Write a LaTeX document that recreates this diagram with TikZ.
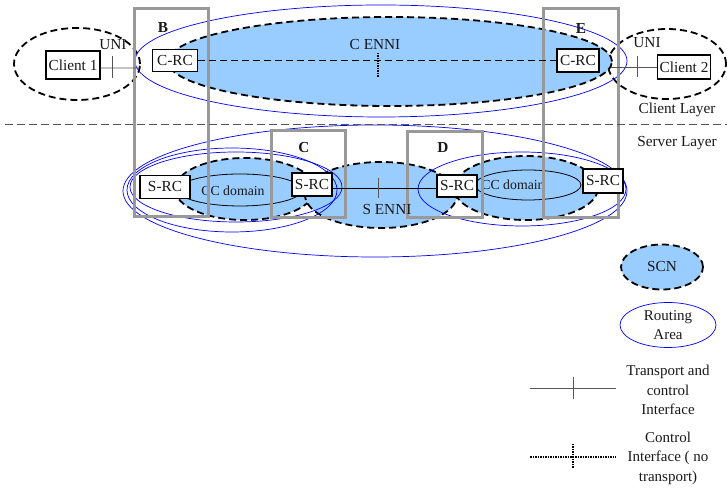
\documentclass[tikz,border=0pt]{standalone}
\usepackage{fontspec}
\setmainfont{Liberation Serif}
\usepackage{xcolor}
\usepackage{tikz}
\usetikzlibrary{positioning,shapes.geometric}

\definecolor{scnblue}{HTML}{99CCFF}
\definecolor{boxgray}{HTML}{999999}
\definecolor{linegray}{HTML}{555555}

\begin{document}
\begin{tikzpicture}[x=10pt,y=10pt,
    font=\fontsize{15.3}{18}\selectfont, text=black!90,
    scnedge/.style={draw=black, line width=1.8pt, dash pattern=on 7pt off 4pt},
    scn/.style={scnedge, fill=scnblue},
    area/.style={draw=blue, line width=0.7pt},
    ncbox/.style={draw=boxgray, line width=3pt},
    rc/.style={draw, fill=white, line width=1.3pt, inner sep=2pt, minimum height=23pt},
    tci/.style={draw=linegray, line width=0.8pt},
    ctrl/.style={draw=black, line width=1.8pt, dash pattern=on 7pt off 4pt},
    ctrltick/.style={draw=black, line width=1.8pt, dash pattern=on 1.5pt off 1pt},
    layer/.style={draw=linegray, line width=1pt, dash pattern=on 8pt off 4pt},
    small/.style={font=\fontsize{13.8}{16}\selectfont},
    legend/.style={align=center, font=\fontsize{15}{19.5}\selectfont}]
    \useasboundingbox (0,0) rectangle (72.7,48.9);

    % SCN domains
    \draw[scnedge] (7.7,42.5) ellipse (6.3 and 3.6);
    \draw[scnedge] (66.7,42.5) ellipse (5.9 and 3.5);
    \draw[scn] (39.0,42.75) ellipse (22.2 and 4.45);
    \draw[scn] (24.5,30.0) ellipse (7.0 and 3.1);
    \draw[scn] (52.6,30.1) ellipse (7.2 and 3.2);
    \draw[scn] (38.1,29.4) ellipse (7.6 and 3.3);

    % Routing areas
    \draw[area] (38.1,42.8) ellipse (24.6 and 5.6);
    \draw[area] (37.5,29.8) ellipse (25.2 and 6.6);
    \draw[area] (23.2,29.9) ellipse (10.5 and 4.2);
    \draw[area] (23.6,30.2) ellipse (10.6 and 3.5);
    \draw[area] (52.2,30.0) ellipse (10.4 and 3.7);

    % CC domains
    \draw[line width=0.8pt] (24.0,29.9) ellipse (6.2 and 1.6);
    \draw[line width=0.8pt] (52.8,30.4) ellipse (5.3 and 1.5);
    \node[small] (ccleft) at (23.3,29.8) {CC domain};
    \node[small] (ccright) at (51.3,30.4) {CC domain};

    % Network boxes
    \draw[ncbox] (13.4,48.0) rectangle (20.8,27.2);
    \draw[ncbox] (54.3,48.0) rectangle (61.8,27.1);
    \draw[ncbox] (27.1,35.8) rectangle (34.5,27.1);
    \draw[ncbox] (40.7,35.7) rectangle (48.2,27.1);
    \node[font=\fontsize{15.3}{18}\bfseries] (labB) at (16.3,46.1) {B};
    \node[font=\fontsize{15.3}{18}\bfseries] (labE) at (58.1,46.1) {E};
    \node[font=\fontsize{15.3}{18}\bfseries] (labC) at (30.4,34.1) {C};
    \node[font=\fontsize{15.3}{18}\bfseries] (labD) at (44.3,34.1) {D};

    % Client layer
    \node[rc, minimum width=54pt, minimum height=28pt] (client1) at (7.3,42.4) {Client 1};
    \node[rc, minimum width=52pt, minimum height=24pt] (client2) at (68.4,42.2) {Client 2};
    \node[rc, minimum width=45pt, minimum height=22pt] (crc1) at (17.5,42.85) {C-RC};
    \node[rc, minimum width=42pt, minimum height=23pt] (crc2) at (57.8,42.85) {C-RC};
    \coordinate (uni1) at (14.1,42.1);
    \coordinate (uni2) at (61.1,42.2);
    \draw[tci] ([yshift=-3pt]client1.east) -- (uni1);
    \draw[tci] (uni2) -- (client2.west);
    \draw[tci] (11.2,43.3) -- (11.2,41.1);
    \draw[tci] (63.7,43.3) -- (63.7,41.2);
    \node (unileft) at (11.3,44.4) {UNI};
    \node (uniright) at (64.7,44.6) {UNI};
    \draw[ctrl] (crc1.east) -- (crc2.west);
    \draw[ctrltick] (37.8,43.6) -- (37.8,41.2);
    \node (cenni) at (37.5,44.4) {C ENNI};

    % Layer border
    \draw[layer] (0.5,36.4) -- (72.7,36.4);
    \node (clientlayer) at (67.7,37.9) {Client Layer};
    \node (serverlayer) at (67.7,34.6) {Server Layer};

    % Server layer
    \node[rc, minimum width=50pt] (src1) at (16.5,30.2) {S-RC};
    \node[rc, minimum width=40pt] (src2) at (31.2,30.45) {S-RC};
    \node[rc, minimum width=40pt, minimum height=22pt] (src3) at (45.7,30.3) {S-RC};
    \node[rc, minimum width=40pt, minimum height=24pt] (src4) at (60.3,30.8) {S-RC};
    \draw[line width=0.8pt] ([yshift=-4pt]src2.east) -- ([yshift=-2.5pt]src3.west);
    \draw[tci] (37.8,31.1) -- (37.8,29.1);
    \node (senni) at (38.7,27.9) {S ENNI};

    % Legend
    \node[scn, ellipse, minimum width=82pt, minimum height=45pt] (keyscn) at (66.2,22.2) {SCN};
    \node[area, ellipse, minimum width=96pt, minimum height=45pt, inner sep=0pt, legend] (keyarea) at (66.8,16.4) {Routing\\Area};
    \coordinate (tcia) at (53.0,10.1);
    \coordinate (tcib) at (61.6,10.1);
    \draw[tci] (tcia) -- (tcib);
    \draw[tci] (57.3,11.2) -- (57.3,9.0);
    \node[legend] (keytci) at (66.8,9.9) {Transport and\\control\\Interface};
    \coordinate (ctla) at (53.0,3.2);
    \coordinate (ctlb) at (61.6,3.2);
    \draw[ctrltick] (ctla) -- (ctlb);
    \draw[ctrltick] (57.3,4.5) -- (57.3,2.0);
    \node[legend] (keyctl) at (66.8,3.1) {Control\\Interface ( no\\transport)};
\end{tikzpicture}
\end{document}
